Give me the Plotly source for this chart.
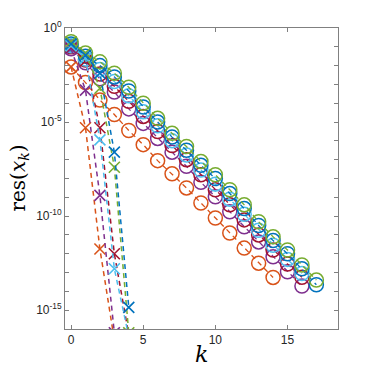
import plotly.graph_objects as go

# iteration index k and log10 residuals
k_green = list(range(18))
green_slow = [-0.73, -1.33, -1.8, -2.4, -3.15, -4.0, -4.8, -5.6, -6.3, -7.1, -7.8, -8.6, -9.4, -10.3, -11.1, -11.8, -12.6, -13.4]
k_blue = list(range(18))
blue_slow = [-0.85, -1.5, -2.0, -2.6, -3.35, -4.2, -5.0, -5.8, -6.5, -7.3, -8.0, -8.8, -9.6, -10.5, -11.3, -12.0, -12.8, -13.65]
k_cyan = list(range(17))
cyan_slow = [-0.95, -1.65, -2.2, -2.85, -3.6, -4.45, -5.2, -6.0, -6.75, -7.55, -8.3, -9.1, -9.9, -10.75, -11.55, -12.3, -13.05]
k_darkred = list(range(17))
darkred_slow = [-1.0, -1.7, -2.45, -3.1, -3.9, -4.7, -5.5, -6.25, -7.0, -7.8, -8.6, -9.4, -10.2, -11.0, -11.8, -12.55, -13.25]
k_purple = list(range(17))
purple_slow = [-1.1, -1.85, -2.7, -3.4, -4.3, -5.07, -5.87, -6.6, -7.35, -8.2, -8.97, -9.77, -10.57, -11.37, -12.16, -12.96, -13.72]
k_orange = list(range(15))
orange_slow = [-2.07, -2.9, -3.83, -4.6, -5.45, -6.2, -7.05, -7.75, -8.5, -9.3, -10.1, -10.9, -11.7, -12.5, -13.26]

k_fast3 = [0, 1, 2, 3]
k_fast4 = [0, 1, 2, 3, 4]
orange_fast = [-2.07, -5.3, -11.75, -16.6]
purple_fast = [-1.1, -3.3, -8.9, -16.2]
darkred_fast = [-1.0, -1.75, -5.3, -12.0, -16.3]
cyan_fast = [-0.95, -1.6, -5.95, -12.8, -16.4]
blue_fast = [-0.85, -1.45, -2.4, -6.6, -14.85]
green_fast = [-0.73, -1.33, -3.2, -7.4, -16.2]

y_label_exp = [0, -5, -10, -15]
y_label_text = ["10<sup>0</sup>", "10<sup>-5</sup>", "10<sup>-10</sup>", "10<sup>-15</sup>"]
y_minor_exp = list(range(0, -17, -1))
x_ticks = [0, 5, 10, 15]
x_title = "<i>k</i>"
y_title = "res(<i>x</i><sub><i>k</i></sub>)"

C = {"blue": "#0072BD", "orange": "#D95319", "purple": "#7E2F8E",
     "green": "#77AC30", "cyan": "#4DBEEE", "darkred": "#A2142F"}

fig = go.Figure()

slow = [("orange", k_orange, orange_slow), ("purple", k_purple, purple_slow),
        ("darkred", k_darkred, darkred_slow), ("cyan", k_cyan, cyan_slow),
        ("blue", k_blue, blue_slow), ("green", k_green, green_slow)]
for name, ks, vals in slow:
    fig.add_trace(go.Scatter(
        x=ks, y=[10 ** v for v in vals], mode="lines+markers",
        line=dict(color=C[name], width=1.3, dash="5px,4px"),
        marker=dict(symbol="circle-open", size=14, color=C[name], line=dict(width=1.5, color=C[name])),
        showlegend=False))

fast = [("orange", k_fast3, orange_fast), ("purple", k_fast3, purple_fast),
        ("darkred", k_fast4, darkred_fast), ("cyan", k_fast4, cyan_fast),
        ("green", k_fast4, green_fast), ("blue", k_fast4, blue_fast)]
for name, ks, vals in fast:
    fig.add_trace(go.Scatter(
        x=ks, y=[10 ** v for v in vals], mode="lines+markers",
        line=dict(color=C[name], width=1.5, dash="5px,4px"),
        marker=dict(symbol="x-thin-open", size=11, color=C[name], line=dict(width=1.6, color=C[name])),
        showlegend=False, cliponaxis=True))

fig.update_layout(
    width=374, height=374,
    margin=dict(l=65, r=36, t=28, b=45, autoexpand=False),
    plot_bgcolor="white", paper_bgcolor="white",
    font=dict(family="Liberation Sans, Arial, sans-serif", size=12, color="#262626"),
    xaxis=dict(range=[-0.42, 18.5], tickvals=x_ticks, ticks="inside", ticklen=4,
               showline=True, mirror="ticks", linecolor="#808080", linewidth=1,
               tickcolor="#808080", showgrid=False, zeroline=False, automargin=False),
    yaxis=dict(type="log", range=[-16.0, 0.0],
               tickvals=[10 ** e for e in y_label_exp],
               ticktext=y_label_text,
               ticks="inside", ticklen=4, showline=True, mirror="ticks",
               linecolor="#808080", linewidth=1, tickcolor="#808080",
               minor=dict(tickvals=[10 ** e for e in y_minor_exp], ticks="inside",
                          ticklen=4, tickcolor="#808080", showgrid=False),
               showgrid=False, zeroline=False, automargin=False),
    annotations=[
        dict(text=x_title, xref="paper", yref="paper", x=0.5, y=-0.086,
             xanchor="center", yanchor="middle", showarrow=False,
             font=dict(family="DejaVu Serif, serif", size=22, color="#000")),
        dict(text=y_title, xref="paper", yref="paper", x=-0.172, y=0.5,
             xanchor="center", yanchor="middle", textangle=-90, showarrow=False,
             font=dict(family="DejaVu Serif, serif", size=20, color="#000")),
    ],
)

fig.write_html("out.html", config={"displayModeBar": False},
               post_script="document.body.style.margin='0';document.body.style.overflow='hidden';")
